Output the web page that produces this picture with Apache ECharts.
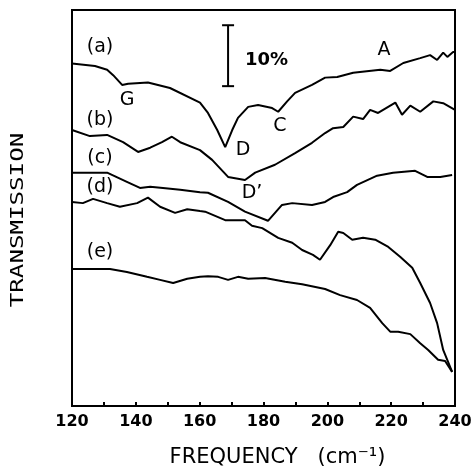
<!DOCTYPE html>
<html lang="en">
<head>
    <meta charset="UTF-8">
    <title>transmission</title>
    <script src="https://cdn.jsdelivr.net/npm/echarts@6/dist/echarts.min.js"></script>
    <style>
        body { margin: 0; background: #fff; }
        #main { width: 476px; height: 468px; }
    </style>
</head>
<body>
<div id="main"></div>
<script>
    // frequency (cm-1) and transmission (%)
    var freqA = [120, 127.2, 131.0, 132.9, 135.7, 137.6, 143.8, 150.7, 160.1, 162.6, 165.5, 168.0, 170.2, 172.0, 175.2, 178.3, 182.7, 184.6, 187.4, 189.9, 195.2, 199.3, 203.1, 208.1, 216.6, 219.7, 223.8, 229.1, 232.2, 234.4, 236.3, 237.6, 239.4, 240];
    var transA = [56.2, 55.8, 55.2, 54.3, 52.7, 52.9, 53.1, 52.2, 49.8, 48.1, 45.3, 42.5, 45.3, 47.3, 49.1, 49.4, 48.9, 48.3, 50.0, 51.4, 52.7, 53.9, 54.0, 54.7, 55.2, 55.0, 56.3, 57.1, 57.6, 56.8, 58.0, 57.3, 58.1, 58.1];

    var freqB = [120, 125.6, 131.0, 136.0, 140.7, 144.5, 148.2, 151.3, 153.9, 160.1, 163.9, 168.9, 174.2, 177.4, 183.6, 189.9, 195.2, 199.3, 201.8, 205.0, 208.1, 211.2, 213.4, 215.9, 221.3, 223.4, 226.0, 229.1, 233.2, 236.3, 240];
    var transB = [45.3, 44.3, 44.5, 43.3, 41.7, 42.4, 43.3, 44.2, 43.3, 42.0, 40.4, 37.6, 37.1, 38.3, 39.6, 41.5, 43.2, 44.8, 45.6, 45.8, 47.5, 47.1, 48.6, 48.1, 49.8, 47.8, 49.3, 48.3, 50.0, 49.7, 48.6];

    var freqC = [120, 131.0, 137.2, 141.3, 144.5, 148.5, 153.9, 160.1, 162.6, 168.9, 174.2, 181.4, 185.8, 189.0, 195.2, 199.3, 201.8, 206.2, 209.3, 215.6, 220.6, 227.5, 231.3, 235.4, 239.1];
    var transC = [38.3, 38.3, 36.8, 35.8, 36.0, 35.8, 35.5, 35.1, 35.0, 33.5, 31.9, 30.4, 33.0, 33.3, 33.0, 33.5, 34.3, 35.1, 36.3, 37.8, 38.3, 38.6, 37.6, 37.6, 37.9];

    var freqD = [120, 123.4, 126.6, 131.0, 135.0, 140.4, 143.8, 147.6, 152.3, 156.1, 160.1, 161.7, 168.0, 174.2, 176.4, 179.6, 184.6, 189.0, 192.1, 195.5, 197.7, 200.9, 203.4, 205.0, 207.8, 211.2, 215.0, 219.1, 222.8, 226.6, 229.1, 232.2, 234.4, 236.3, 239.1];
    var transD = [33.5, 33.3, 34.0, 33.3, 32.7, 33.3, 34.2, 32.7, 31.7, 32.3, 32.0, 31.9, 30.5, 30.5, 29.6, 29.2, 27.6, 26.8, 25.6, 24.8, 24.0, 26.4, 28.6, 28.4, 27.3, 27.6, 27.3, 26.1, 24.5, 22.7, 20.2, 16.9, 13.6, 9.2, 5.6];

    var freqE = [120, 131.9, 137.2, 143.5, 147.6, 151.7, 156.1, 160.1, 162.6, 165.8, 168.9, 172.0, 175.2, 180.5, 186.8, 192.1, 199.3, 204.0, 209.3, 213.4, 217.2, 219.7, 222.2, 226.0, 229.1, 231.6, 234.7, 236.9, 239.1];
    var transE = [22.5, 22.5, 22.0, 21.2, 20.7, 20.2, 20.9, 21.2, 21.3, 21.2, 20.7, 21.2, 20.9, 21.0, 20.4, 20.0, 19.2, 18.2, 17.4, 16.1, 13.6, 12.2, 12.2, 11.8, 10.3, 9.2, 7.6, 7.4, 5.6];

    // 10% scale bar: [frequency, low, high]
    var scaleBar = [[168.9, 52.5, 62.5]];

    function pairs(xs, ys) {
        var res = [];
        for (var i = 0; i < xs.length; i++) {
            res.push([xs[i], ys[i]]);
        }
        return res;
    }

    function curve(name, xs, ys) {
        return {
            name: name,
            type: 'line',
            data: pairs(xs, ys),
            symbol: 'none',
            smooth: false,
            lineStyle: { color: '#000', width: 2 },
            silent: true
        };
    }

    // text centred on (x, y)
    function tag(text, x, y) {
        return {
            type: 'text', x: x, y: y,
            style: { text: text, fill: '#000', font: '19px "DejaVu Sans"', textAlign: 'center', textVerticalAlign: 'middle' }
        };
    }

    var option = {
        backgroundColor: '#fff',
        animation: false,
        grid: {
            left: 72, right: 21, top: 10, bottom: 62,
            outerBoundsMode: 'none',
            show: true, borderColor: '#000', borderWidth: 2
        },
        xAxis: {
            type: 'value',
            min: 120, max: 240, interval: 10,
            name: 'FREQUENCY   (cm\u207B\u00B9)',
            nameLocation: 'middle',
            nameGap: 41,
            nameTextStyle: { color: '#000', fontFamily: 'DejaVu Sans', fontSize: 21, padding: [0, 0, 0, 28] },
            axisLine: { lineStyle: { color: '#000', width: 2 } },
            axisTick: { inside: true, length: 4, lineStyle: { color: '#000', width: 2 } },
            axisLabel: {
                color: '#000', fontFamily: 'DejaVu Sans', fontWeight: 'bold', fontSize: 16, margin: 8,
                formatter: function (v) { return v % 20 === 0 ? String(v) : ''; }
            },
            splitLine: { show: false }
        },
        yAxis: {
            type: 'value',
            min: 0, max: 65,
            axisLine: { lineStyle: { color: '#000', width: 2 } },
            axisTick: { show: false },
            axisLabel: { show: false },
            splitLine: { show: false }
        },
        series: [
            curve('a', freqA, transA),
            curve('b', freqB, transB),
            curve('c', freqC, transC),
            curve('d', freqD, transD),
            curve('e', freqE, transE),
            {
                type: 'custom',
                silent: true,
                data: scaleBar,
                renderItem: function (params, api) {
                    var top = api.coord([api.value(0), api.value(2)]);
                    var bot = api.coord([api.value(0), api.value(1)]);
                    var x = top[0];
                    var st = { stroke: '#000', lineWidth: 2 };
                    return {
                        type: 'group',
                        children: [
                            { type: 'line', shape: { x1: x, y1: top[1], x2: x, y2: bot[1] }, style: st },
                            { type: 'line', shape: { x1: x - 6, y1: top[1], x2: x + 6, y2: top[1] }, style: st },
                            { type: 'line', shape: { x1: x - 6, y1: bot[1], x2: x + 6, y2: bot[1] }, style: st },
                            { type: 'text', style: { text: '10%', x: x + 17, y: (top[1] + bot[1]) / 2 + 5, fill: '#000', font: 'bold 18px "DejaVu Sans"', textVerticalAlign: 'middle' } }
                        ]
                    };
                }
            }
        ],
        graphic: [
            {
                type: 'text', x: 19, y: 220, rotation: Math.PI / 2, scaleX: 1.42,
                style: { text: 'TRANSMISSION', fill: '#000', font: '17px "DejaVu Sans Mono"', textAlign: 'center', textVerticalAlign: 'middle' }
            },
            tag('(a)', 100, 47),
            tag('(b)', 100, 120),
            tag('(c)', 100, 158),
            tag('(d)', 100, 187),
            tag('(e)', 100, 252),
            tag('G', 127, 100),
            tag('D', 243, 150),
            tag('C', 280, 126),
            tag('A', 384, 50),
            tag('D\u2019', 252, 193)
        ]
    };

    var myChart = echarts.init(document.getElementById('main'));
    myChart.setOption(option);
</script>
</body>
</html>
